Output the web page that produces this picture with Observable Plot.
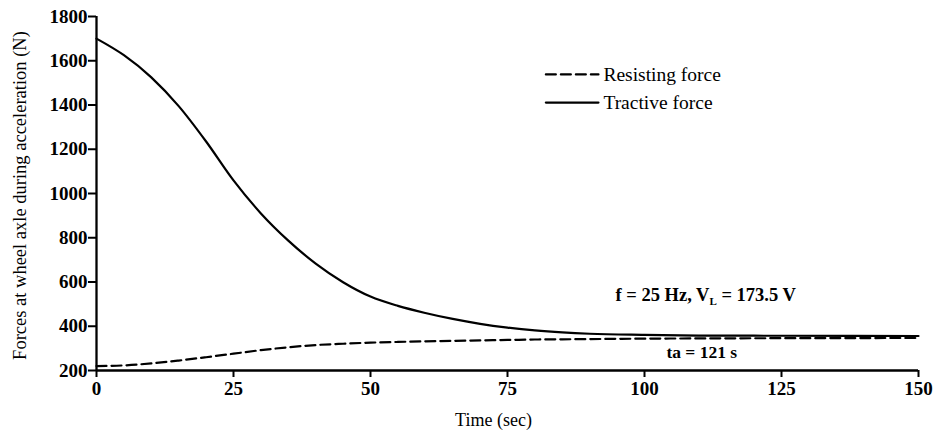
<!DOCTYPE html>
<html>
<head>
<meta charset="utf-8">
<script src="https://cdn.jsdelivr.net/npm/d3@7"></script>
<script src="https://cdn.jsdelivr.net/npm/@observablehq/plot@0.6"></script>
<style>
  html, body { margin: 0; padding: 0; background: #fff; }
  svg { display: block; }
  svg, svg text, svg tspan { font-family: "Liberation Serif", "DejaVu Serif", serif !important; }
</style>
</head>
<body>
<div id="chart"></div>
<script>
// Data
const time      = [0, 5, 10, 15, 20, 25, 30, 35, 40, 45, 50, 55, 60, 65, 70, 75, 80, 85, 90, 100, 110, 125, 150];
const tractive  = [1700, 1625, 1525, 1395, 1235, 1059, 910, 787, 683, 599, 534, 492, 460, 433, 411, 394, 381, 372, 366, 361, 358, 357, 356];
const resisting = [220, 223, 232, 245, 260, 276, 292, 305, 315, 321, 326, 329, 332, 334, 336, 338, 340, 341, 342, 344, 345, 346, 347];
const xTicks = [0, 25, 50, 75, 100, 125, 150];
const yTicks = [200, 400, 600, 800, 1000, 1200, 1400, 1600, 1800];
const seriesNames = ["Resisting force", "Tractive force"];
const seriesDash = ["10,5", null];
const xLabel = "Time (sec)";
const yLabel = "Forces at wheel axle during acceleration (N)";
const annotation1 = "f = 25 Hz, V_L = 173.5 V";
const annotation2 = "ta = 121 s";

const tractiveData = time.map((t, i) => ({t, v: tractive[i]}));
const resistingData = time.map((t, i) => ({t, v: resisting[i]}));

// legend sample positions (in data units)
const legendX = [82, 91.6];
const legendY = [1538, 1411];
const legendLines = seriesNames.map((name, i) => legendX.map(x => ({x, y: legendY[i], name})));
const legendText = seriesNames.map((name, i) => ({x: 92.5, y: legendY[i], name}));

const font = "Liberation Serif";

const chart = Plot.plot({
  width: 938,
  height: 442,
  marginLeft: 96,
  marginRight: 20,
  marginTop: 16,
  marginBottom: 72,
  style: {fontFamily: font, background: "#fff", color: "#000"},
  x: {domain: [0, 150]},
  y: {domain: [200, 1800]},
  marks: [
    Plot.axisX({ticks: xTicks, tickFormat: d => String(d), tickSize: 7, tickPadding: 4, fontSize: 19, fontWeight: "bold", fontFamily: font, strokeWidth: 2, label: null}),
    Plot.axisY({ticks: yTicks, tickFormat: d => String(d), tickSize: 8, tickPadding: 1, fontSize: 19, fontWeight: "bold", fontFamily: font, strokeWidth: 2, label: null}),
    Plot.ruleX([0], {strokeWidth: 2.3}),
    Plot.ruleY([200], {strokeWidth: 2.3}),
    Plot.line(resistingData, {x: "t", y: "v", curve: "monotone-x", stroke: "#000", strokeWidth: 2.2, strokeDasharray: seriesDash[0]}),
    Plot.line(tractiveData, {x: "t", y: "v", curve: "monotone-x", stroke: "#000", strokeWidth: 2.2}),
    Plot.line(legendLines[0], {x: "x", y: "y", stroke: "#000", strokeWidth: 2.2, strokeDasharray: seriesDash[0]}),
    Plot.line(legendLines[1], {x: "x", y: "y", stroke: "#000", strokeWidth: 2.2}),
    Plot.text(legendText, {x: "x", y: "y", text: "name", textAnchor: "start", fontSize: 19.5, fontFamily: font}),
    Plot.text([annotation1], {x: 94.7, y: 539, text: d => d, textAnchor: "start", fontSize: 18.5, fontWeight: "bold", fontFamily: font}),
    Plot.text([annotation2], {x: 104, y: 281, text: d => d, textAnchor: "start", fontSize: 17.5, fontWeight: "bold", fontFamily: font}),
    Plot.text([xLabel], {frameAnchor: "bottom", dx: -14, dy: 55, text: d => d, fontSize: 18, fontFamily: font}),
    Plot.text([yLabel], {frameAnchor: "left", textAnchor: "middle", dx: -76, dy: 2, rotate: -90, text: d => d, fontSize: 18.5, fontFamily: font})
  ]
});

// subscript L in the annotation
d3.select(chart).selectAll("text").each(function() {
  const el = d3.select(this);
  if (this.textContent === annotation1) {
    const parts = annotation1.split("_L");
    el.text(null);
    el.append("tspan").text(parts[0]);
    el.append("tspan").attr("dy", 4).attr("font-size", 11).text("L");
    el.append("tspan").attr("dy", -4).text(parts[1]);
  }
});

document.getElementById("chart").appendChild(chart);
</script>
</body>
</html>
